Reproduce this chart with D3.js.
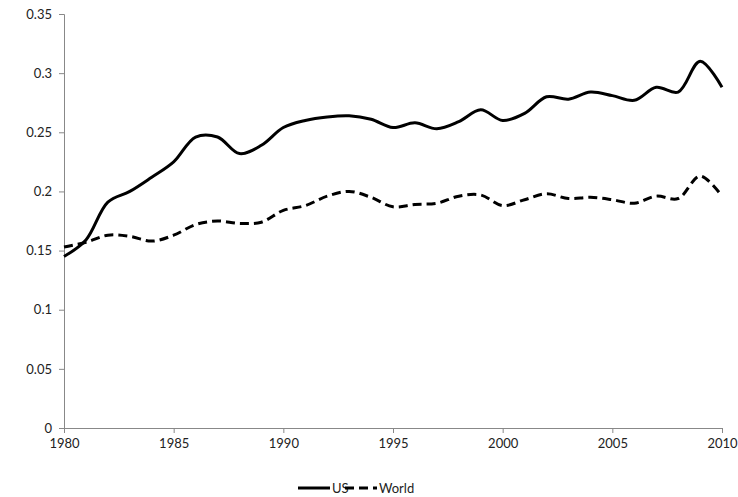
<!DOCTYPE html>
<html><head><meta charset="utf-8">
<script src="https://cdn.jsdelivr.net/npm/d3@7"></script>
<style>body{margin:0;background:#fff}text{font-family:Lato,sans-serif;font-size:13px;fill:#222}</style>
</head><body><svg id="c" width="738" height="497"></svg>
<script>
const years = d3.range(1980, 2011);
const us = [0.145,0.159,0.191,0.2,0.212,0.225,0.246,0.246,0.232,0.239,0.254,0.26,0.263,0.264,0.261,0.254,0.258,0.253,0.259,0.269,0.26,0.266,0.28,0.278,0.284,0.281,0.277,0.288,0.284,0.31,0.288];
const world = [0.153,0.157,0.163,0.162,0.158,0.163,0.172,0.175,0.173,0.174,0.184,0.188,0.196,0.2,0.195,0.187,0.189,0.19,0.196,0.197,0.188,0.193,0.198,0.194,0.195,0.193,0.19,0.196,0.194,0.213,0.196];
const yTicks = [0,0.05,0.1,0.15,0.2,0.25,0.3,0.35];
const xTicks = [1980,1985,1990,1995,2000,2005,2010];

const svg = d3.select("#c");
const x = d3.scaleLinear().domain([1980, 2010]).range([64, 722]);
const y = d3.scaleLinear().domain([0, 0.35]).range([428, 14]);

const ya = svg.append("g").attr("transform", "translate(64,0)")
    .call(d3.axisLeft(y).tickValues(yTicks).tickSize(5).tickPadding(7).tickFormat(d => d === 0 ? "0" : String(+d.toFixed(2))));
const xa = svg.append("g").attr("transform", "translate(0,428)")
    .call(d3.axisBottom(x).tickValues(xTicks).tickSize(5).tickPadding(6).tickFormat(d3.format("d")));
[ya, xa].forEach(a => {
    a.select(".domain").attr("stroke", "#888");
    a.selectAll(".tick line").attr("stroke", "#888");
    a.selectAll("text").style("font-size", "13px").attr("fill", "#222");
});

const line = d3.line().x((d, i) => x(years[i])).y(d => y(d)).curve(d3.curveCatmullRom.alpha(0.5));
svg.append("path").datum(us).attr("d", line).attr("fill", "none").attr("stroke", "#000").attr("stroke-width", 3);
svg.append("path").datum(world).attr("d", line).attr("fill", "none").attr("stroke", "#000").attr("stroke-width", 3).attr("stroke-dasharray", "9,5");

const lg = svg.append("g").attr("transform", "translate(0,488)");
lg.append("line").attr("x1", 298).attr("x2", 330).attr("stroke", "#000").attr("stroke-width", 3);
lg.append("text").attr("x", 332).attr("y", 5).text("US");
lg.append("line").attr("x1", 345).attr("x2", 377).attr("stroke", "#000").attr("stroke-width", 3).attr("stroke-dasharray", "9,5");
lg.append("text").attr("x", 379).attr("y", 5).text("World");
</script></body></html>
